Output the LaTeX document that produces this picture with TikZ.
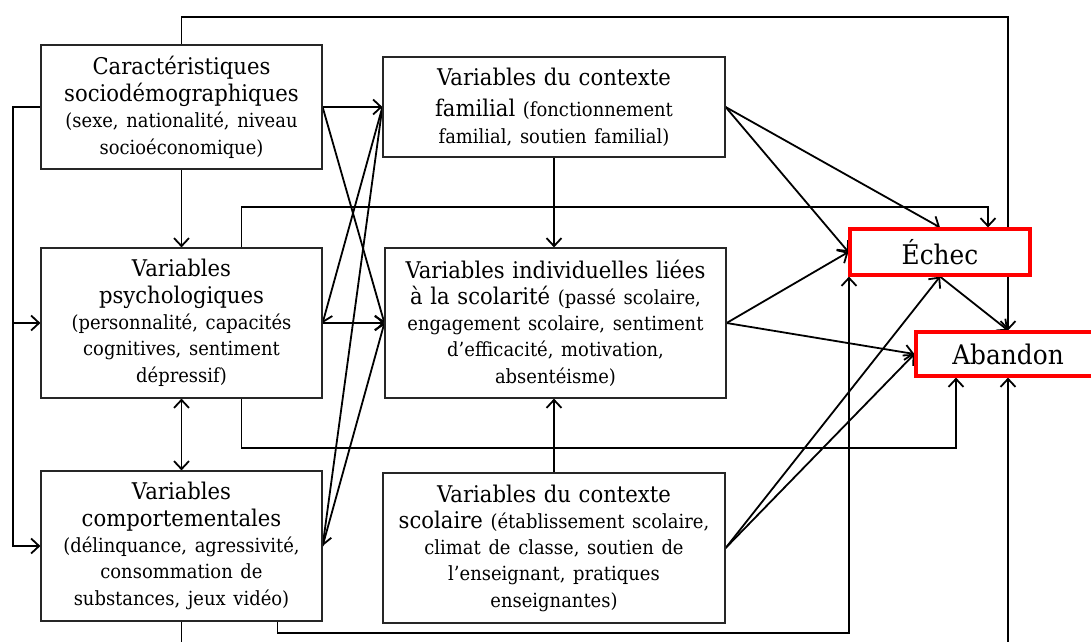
\documentclass[tikz,border=0pt]{standalone}
\usepackage{fontspec}
\setmainfont{DejaVu Serif}[FakeStretch=0.92]
\usetikzlibrary{arrows.meta,backgrounds}
\newcommand\bigtxt{\fontsize{23}{27}\selectfont}
\newcommand\smtxt{\fontsize{19.5}{26}\selectfont}
\newcommand\outtxt{\fontsize{27}{30}\selectfont}

\begin{document}
\begin{tikzpicture}[x=1pt,y=-1pt,
  box/.style={draw=black!85,line width=1.2pt,fill=white,align=center,inner sep=2pt,font=\bigtxt},
  redbox/.style={draw=red,line width=3.2pt,fill=white,inner sep=0pt,font=\outtxt},
  conn/.style={line width=1.8pt,-{Straight Barb[length=8pt,width=15pt]}},
  twoway/.style={line width=1.8pt,{Straight Barb[length=8pt,width=15pt]}-{Straight Barb[length=8pt,width=15pt]}}]
\useasboundingbox (0,0) rectangle (1091,641);
\clip (0,0) rectangle (1091,641);

\node[box,minimum width=281pt,minimum height=124pt,text width=276pt] (S) at (181.5,107) {Caractéristiques\\ sociodémographiques\\ {\smtxt (sexe, nationalité, niveau\\ socioéconomique)}};
\node[box,minimum width=342pt,minimum height=100pt,text width=336pt] (F) at (554,107) {Variables du contexte\\[5pt] familial {\smtxt (fonctionnement\\ familial, soutien familial)}};
\node[box,minimum width=281pt,minimum height=150pt,text width=276pt] (P) at (181.5,323) {Variables\\ psychologiques\\ {\smtxt (personnalité, capacités\\ cognitives, sentiment\\ dépressif)}};
\node[box,minimum width=341pt,minimum height=150pt,text width=336pt] (I) at (555.5,323) {Variables individuelles liées\\ à la scolarité {\smtxt (passé scolaire,\\ engagement scolaire, sentiment\\ d’efficacité, motivation,\\ absentéisme)}};
\node[box,minimum width=281pt,minimum height=150pt,text width=276pt] (C) at (181.5,546) {Variables\\ comportementales\\ {\smtxt (délinquance, agressivité,\\ consommation de\\ substances, jeux vidéo)}};
\node[box,minimum width=342pt,minimum height=150pt,text width=336pt] (Sc) at (554,548) {Variables du contexte\\ scolaire {\smtxt (établissement scolaire,\\ climat de classe, soutien de\\ l’enseignant, pratiques\\ enseignantes)}};
\node[redbox,minimum width=180pt,minimum height=46pt] (E) at (940,252) {Échec};
\node[redbox,minimum width=184pt,minimum height=44pt] (A) at (1008,354) {Abandon};

\begin{scope}[on background layer]
\clip (0,0) rectangle (1091,641);
\draw[conn] (S) -- (P);
\draw[twoway] (P) -- (C);
\draw[conn] (S) -- (F);
\draw[conn] (S.east) -- (I.west);
\draw[conn] (F.west) -- (P.east);
\draw[conn] (F.west) -- (C.east);
\draw[conn] (C.east) -- (I.west);
\draw[conn] (P) -- (I);
\draw[conn] (F.south) -- (F.south |- I.north);
\draw[conn] (Sc.north) -- (Sc.north |- I.south);
\draw[conn] (F.east) -- (E.north);
\draw[conn] (F.east) -- (E.west);
\draw[conn] (I.east) -- (E.west);
\draw[conn] (I.east) -- (A.west);
\draw[conn] (Sc.east) -- (E.south);
\draw[conn] (Sc.east) -- (A.west);
\draw[conn] (E.south) -- (A.north);
\coordinate (toploop) at (1008,17);
\draw[conn] (S.north) |- (toploop) -- (A.north);
\coordinate (leftloop) at (13,107);
\draw[conn] (S.west) -- (leftloop) |- (C.west);
\draw[conn] (leftloop |- P.west) -- (P.west);
\coordinate (psyup) at (988,207);
\draw[conn] ([xshift=60pt]P.north) |- (psyup) -- (psyup |- E.north);
\coordinate (psydown) at (956,448);
\draw[conn] ([xshift=60pt]P.south) |- (psydown) -- (psydown |- A.south);
\coordinate (compright) at (849,633);
\draw[conn] ([xshift=96pt]C.south) |- (compright) -- (compright |- E.south);
\coordinate (compdown) at (1008,660);
\draw[conn] (C.south) |- (compdown) -- (A.south);
\end{scope}
\end{tikzpicture}
\end{document}
